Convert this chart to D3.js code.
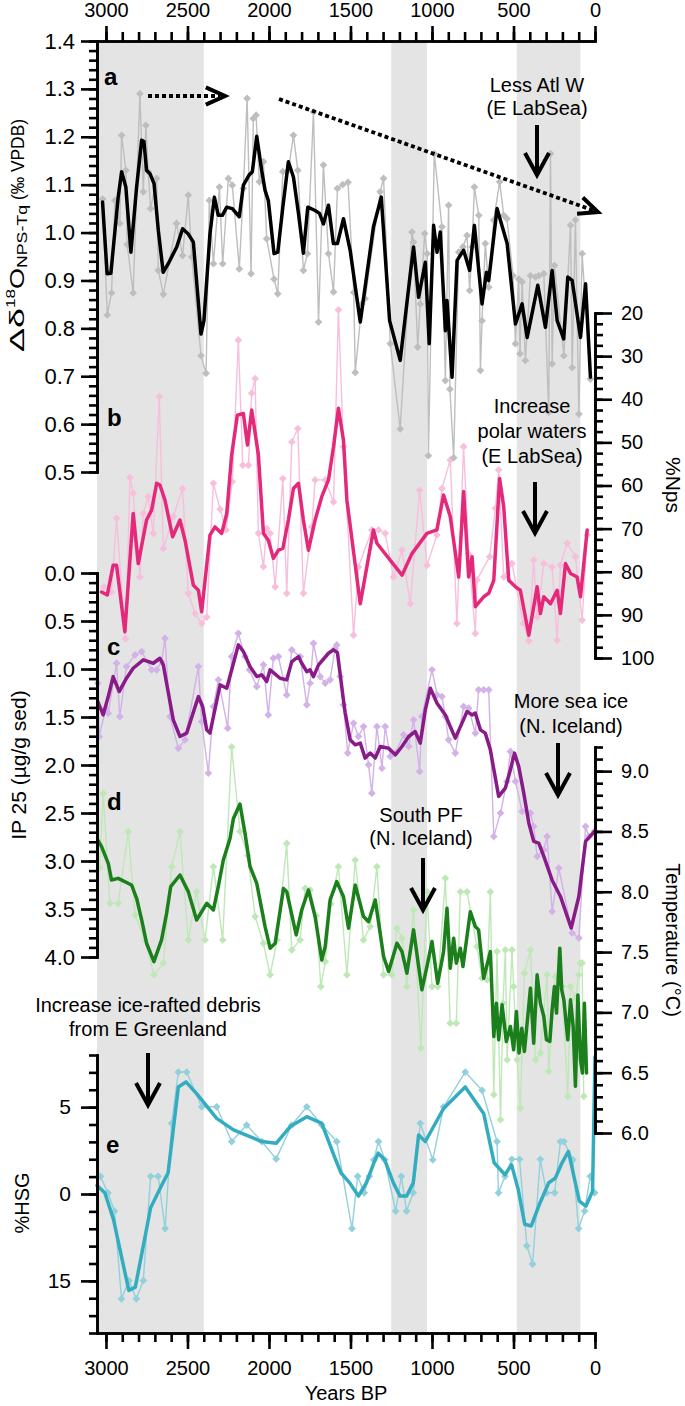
<!DOCTYPE html>
<html><head><meta charset="utf-8">
<script src="https://cdn.jsdelivr.net/npm/d3@7"></script>
<style>
body{margin:0;background:#fff}
svg text{font-family:"Liberation Sans",Arial,Helvetica,sans-serif;fill:#000}
</style>
</head><body>
<svg id="chart" width="685" height="1406"></svg>
<script>
// ---------- DATA (year BP, value) ----------
const deltaRaw=[[3021,1.07],[2992,0.828],[2966,0.874],[2945,1.067],[2915,1.019],[2904,1.203],[2878,1.13],[2870,0.975],[2833,0.874],[2792,1.29],[2771,1.085],[2755,1.224],[2741,1.127],[2726,1.05],[2689,1.113],[2679,0.921],[2648,0.871],[2567,1.019],[2530,0.952],[2495,1.078],[2474,0.949],[2417,0.743],[2386,0.706],[2366,1.067],[2341,0.935],[2304,1.095],[2284,0.935],[2249,1.113],[2225,1.099],[2182,0.924],[2157,1.092],[2134,1.28],[2110,0.914],[2096,1.238],[2079,1.245],[2059,1.106],[2034,1.148],[2014,0.987],[1969,0.903],[1946,0.872],[1915,1.127],[1881,1.13],[1850,1.203],[1823,1.13],[1789,0.921],[1764,0.956],[1727,1.252],[1696,0.813],[1666,1.141],[1635,0.956],[1604,0.876],[1580,1.092],[1548,1.1],[1515,1.105],[1480,0.875],[1471,0.708],[1430,0.851],[1410,0.862],[1318,1.085],[1297,1.113],[1256,0.768],[1195,0.59],[1123,1.001],[1113,0.98],[1088,0.761],[1072,0.851],[1045,0.998],[1030,0.956],[1022,0.534],[986,1.165],[939,1.012],[918,0.691],[898,1.057],[890,0.673],[867,0.53],[836,0.959],[810,0.97],[785,0.994],[769,0.879],[754,0.97],[740,1.095],[713,1.036],[703,0.712],[693,0.816],[673,0.977],[652,0.886],[621,1.026],[585,1.106],[560,1.036],[540,1.029],[503,0.91],[488,0.768],[468,0.903],[460,0.747],[447,0.897],[427,0.733],[396,0.91],[365,0.907],[345,0.91],[314,0.914],[284,0.625],[273,1.165],[263,0.726],[249,0.931],[191,0.743],[150,1.015],[140,0.718],[120,1.026],[99,0.621],[79,0.956],[28,0.694]];
const deltaSmooth=[[3021,1.064],[2993,0.914],[2970,0.915],[2925,1.074],[2904,1.127],[2878,1.095],[2847,0.959],[2812,1.095],[2781,1.193],[2767,1.19],[2751,1.13],[2730,1.123],[2705,1.102],[2679,1.005],[2649,0.917],[2618,0.935],[2566,0.97],[2530,1.008],[2495,0.997],[2464,0.98],[2417,0.788],[2399,0.816],[2362,0.997],[2335,1.074],[2311,1.036],[2286,1.036],[2259,1.053],[2225,1.05],[2182,1.033],[2157,1.099],[2122,1.12],[2102,1.127],[2075,1.201],[2045,1.13],[2024,1.088],[2004,1.067],[1969,0.956],[1946,0.959],[1915,1.053],[1881,1.148],[1850,1.116],[1819,1.04],[1789,0.957],[1762,1.053],[1717,1.046],[1690,1.04],[1666,1.018],[1635,1.057],[1605,0.977],[1580,0.977],[1543,1.029],[1502,0.963],[1440,0.813],[1359,1.012],[1311,1.074],[1260,0.816],[1195,0.733],[1133,0.914],[1113,0.97],[1082,0.865],[1041,0.938],[1017,0.768],[990,1.015],[969,0.959],[949,1.001],[918,0.795],[908,0.858],[877,0.698],[846,0.942],[806,0.963],[769,0.921],[740,1.015],[693,0.851],[666,0.917],[652,0.9],[601,1.05],[539,0.977],[488,0.809],[447,0.851],[416,0.781],[351,0.89],[304,0.802],[263,0.921],[232,0.816],[192,0.778],[167,0.907],[140,0.9],[89,0.781],[58,0.893],[28,0.698]];

const npsRaw=[[3013,83.5],[2966,84.7],[2935,67.6],[2880,95.5],[2853,58.2],[2833,61.8],[2792,81.2],[2771,66.5],[2741,62.6],[2710,71.1],[2673,39.4],[2648,74.6],[2587,67.2],[2530,60.7],[2495,85.0],[2454,89.7],[2413,92.0],[2382,90.5],[2341,59.5],[2300,65.5],[2263,70.3],[2225,59.1],[2188,26.3],[2161,55.3],[2126,55.3],[2106,38.6],[2085,35.2],[2065,71.1],[2034,78.8],[2014,70.0],[1993,71.1],[1962,83.5],[1915,58.4],[1891,85.0],[1860,49.9],[1823,46.8],[1789,85.0],[1737,69.6],[1717,58.7],[1655,58.7],[1604,63.8],[1574,19.3],[1543,51.0],[1481,94.7],[1451,78.9],[1369,70.3],[1328,70.3],[1287,71.1],[1236,81.2],[1184,75.0],[1133,87.4],[1076,61.1],[1031,78.5],[970,71.5],[939,60.7],[888,54.1],[847,92.0],[806,51.0],[775,75.8],[734,94.3],[724,81.9],[646,76.5],[611,65.3],[591,56.4],[560,81.2],[509,78.1],[440,92],[406,96],[376,77.3],[355,90.5],[314,78.1],[263,78.9],[232,95.9],[212,78.5],[171,73.4],[120,76.5],[79,91.2],[48,71.5]];
const npsSmooth=[[3027,84.7],[2992,85.4],[2956,78.5],[2935,78.5],[2884,93.9],[2833,66.5],[2802,78.1],[2751,68.0],[2720,65.7],[2689,59.5],[2669,59.9],[2638,63.4],[2591,71.9],[2546,68.0],[2515,72.7],[2464,83.1],[2433,84.3],[2413,89.3],[2362,71.5],[2331,69.6],[2290,71.1],[2259,66.5],[2229,52.9],[2194,43.7],[2157,43.3],[2132,50.6],[2106,42.5],[2065,52.9],[2034,71.1],[2004,72.7],[1973,76.9],[1942,75.0],[1915,74.6],[1881,68.0],[1850,60.7],[1819,59.5],[1789,68.0],[1758,75.0],[1717,68.0],[1676,62.6],[1635,58.7],[1604,51.0],[1574,42.1],[1543,49.5],[1522,63.4],[1440,87.4],[1359,70.3],[1338,73.4],[1184,80.8],[1123,75.8],[1031,71.1],[970,70.3],[929,62.2],[888,67.2],[836,81.2],[806,61.4],[775,81.2],[754,76.5],[734,88.1],[683,85.8],[652,85.0],[621,82.0],[585,58.4],[560,64.9],[529,82.0],[488,83.5],[458,84.3],[406,94.7],[376,88.1],[355,83.5],[335,89.7],[314,85.8],[273,87.4],[232,84.3],[212,89.7],[181,78.1],[150,80.4],[110,81.2],[89,85.8],[48,70.3]];

const ip25Raw=[[3050,1.148],[3042,1.703],[3001,1.408],[2986,1.46],[2935,0.94],[2915,1.495],[2874,0.975],[2822,0.853],[2781,0.818],[2720,1.009],[2689,1.009],[2659,0.923],[2638,0.68],[2607,1.495],[2556,1.825],[2515,1.738],[2433,0.975],[2413,1.547],[2372,2.085],[2341,1.391],[2310,1.113],[2253,1.616],[2229,0.871],[2188,0.628],[2147,0.871],[2120,1.009],[2075,1.183],[2034,0.957],[2004,1.478],[1973,0.888],[1942,0.871],[1891,1.27],[1860,0.801],[1809,0.871],[1768,1.373],[1748,1.148],[1727,0.732],[1686,1.079],[1655,1.148],[1625,1.113],[1594,0.784],[1584,0.749],[1563,1.079],[1543,1.373],[1517,1.876],[1481,1.564],[1451,1.703],[1420,1.599],[1389,1.998],[1369,2.293],[1338,1.599],[1307,2.033],[1287,1.599],[1256,1.911],[1225,1.876],[1174,1.686],[1143,1.807],[1113,1.53],[1076,2.067],[1062,1.495],[1000,1.009],[969,1.27],[939,1.287],[918,1.495],[898,1.738],[857,1.876],[806,1.391],[775,1.408],[734,1.668],[714,1.217],[683,1.217],[652,1.217],[621,2.744],[580,2.501],[540,2.171],[519,1.859],[488,2.171],[447,2.484],[396,2.501],[376,2.64],[355,2.952],[314,2.883],[294,2.744],[263,3.525],[222,3.074],[140,3.75],[99,3.802],[58,2.64],[38,2.744],[2,2.69]];
const ip25Smooth=[[3050,1.339],[3017,1.478],[2986,1.287],[2956,1.079],[2919,1.235],[2874,1.096],[2833,0.992],[2771,0.905],[2710,0.94],[2669,0.888],[2648,0.957],[2628,1.148],[2587,1.53],[2546,1.703],[2505,1.668],[2433,1.287],[2407,1.391],[2382,1.634],[2362,1.668],[2300,1.165],[2259,1.2],[2218,0.94],[2188,0.749],[2157,0.818],[2116,0.975],[2075,1.079],[2044,1.061],[2014,1.131],[1993,1.009],[1932,1.096],[1891,1.113],[1860,0.923],[1819,0.871],[1799,0.94],[1768,1.027],[1748,1.009],[1727,1.079],[1696,0.957],[1635,0.836],[1604,0.8],[1580,0.83],[1545,1.3],[1533,1.45],[1502,1.738],[1471,1.79],[1440,1.772],[1410,1.928],[1379,1.876],[1348,1.928],[1318,1.807],[1266,1.825],[1225,1.894],[1184,1.807],[1143,1.703],[1103,1.651],[1072,1.772],[1041,1.426],[1010,1.2],[969,1.356],[918,1.478],[888,1.599],[857,1.72],[816,1.564],[785,1.443],[754,1.478],[734,1.46],[703,1.634],[673,1.668],[642,1.842],[591,2.327],[550,2.241],[519,2.05],[494,1.876],[468,2.015],[437,2.293],[406,2.605],[376,2.796],[345,2.813],[314,2.952],[263,3.2],[212,3.369],[146,3.698],[99,3.369],[58,2.796],[2,2.69]];

const tempRaw=[[3040,8.2],[3017,8.815],[2976,7.904],[2925,7.904],[2863,8.498],[2822,7.808],[2760,7.6],[2706,7.311],[2648,7.408],[2597,8.208],[2546,8.498],[2495,7.601],[2444,8.001],[2392,7.601],[2341,8.208],[2284,7.601],[2229,9.201],[2178,8.5],[2130,8.3],[2085,7.794],[2034,7.573],[1993,7.311],[1950,7.6],[1891,8.401],[1860,7.518],[1809,7.601],[1778,8.028],[1747,8.015],[1710,7.8],[1682,7.214],[1655,7.421],[1620,7.9],[1574,8.208],[1522,7.311],[1471,8.263],[1420,7.601],[1379,7.711],[1338,8.208],[1297,7.311],[1246,7.311],[1215,7.697],[1184,7.615],[1154,7.214],[1113,7.849],[1068,6.704],[1031,7.999],[1000,7.214],[965,7.214],[918,8.111],[888,6.91],[851,6.91],[826,7.999],[785,7.999],[724,7.546],[693,7.283],[662,7.27],[642,7.999],[621,6.318],[601,7.504],[580,6.11],[564,7.076],[550,7.518],[539,6.607],[509,7.518],[499,7.214],[478,6.607],[458,6.207],[433,7.325],[396,7.518],[365,6.607],[335,6.663],[294,7.311],[284,6.511],[243,7.297],[222,7.297],[202,7.214],[167,6.304],[150,7.214],[120,7.118],[99,7.311],[89,7.408],[79,7.408],[69,6.304]];
const tempSmooth=[[3050,8.429],[3027,8.374],[2986,8.236],[2966,8.097],[2925,8.111],[2843,8.056],[2812,7.946],[2781,7.766],[2751,7.573],[2706,7.421],[2659,7.601],[2628,7.822],[2603,8.042],[2546,8.139],[2495,8.001],[2444,7.766],[2382,7.904],[2341,7.849],[2311,8.042],[2280,8.263],[2239,8.442],[2218,8.608],[2178,8.727],[2147,8.484],[2116,8.208],[2075,8.07],[2024,7.711],[1993,7.532],[1962,7.573],[1911,8.028],[1891,8.001],[1860,7.808],[1833,7.642],[1799,7.849],[1758,8.015],[1717,7.794],[1676,7.435],[1655,7.546],[1625,7.932],[1584,8.084],[1543,7.959],[1512,7.697],[1471,8.056],[1420,7.794],[1389,7.752],[1348,7.932],[1297,7.463],[1266,7.339],[1215,7.573],[1184,7.504],[1154,7.325],[1113,7.684],[1062,7.187],[1031,7.38],[1000,7.587],[965,7.242],[929,7.504],[908,7.863],[888,7.366],[867,7.615],[851,7.408],[826,7.532],[810,7.38],[765,7.835],[734,7.711],[714,7.684],[683,7.283],[642,7.504],[621,6.8],[605,7.076],[591,6.773],[570,7.063],[544,6.759],[519,6.883],[499,6.69],[482,7.007],[466,6.663],[449,6.869],[433,6.676],[396,7.201],[376,6.745],[355,7.311],[335,7.076],[314,6.966],[298,6.773],[277,6.759],[263,7.021],[249,7.214],[236,6.994],[216,7.532],[204,7.187],[191,7.104],[167,6.773],[150,7.104],[134,6.883],[120,6.387],[105,7.145],[89,6.607],[77,6.497],[65,7.076],[52,6.497]];

const hsgRaw=[[3034,8.98],[2988,9.93],[2948,10.98],[2905,16.03],[2859,14.98],[2814,16.03],[2771,14.98],[2726,8.98],[2680,8.98],[2637,11.99],[2597,5.93],[2556,2.98],[2505,2.98],[2413,4.98],[2321,4.98],[2229,6.98],[2137,6.03],[2044,6.98],[1956,7.98],[1860,6.03],[1768,4.98],[1676,6.03],[1584,6.98],[1491,11.99],[1456,8.98],[1416,9.93],[1384,8.98],[1357,8.03],[1328,6.98],[1290,8.03],[1223,10.98],[1188,8.98],[1156,10.98],[1115,9.93],[1072,5.93],[995,8.03],[929,4.98],[796,2.98],[693,4.03],[601,6.98],[592,9.93],[552,8.98],[510,8.0],[463,8.0],[418,12.98],[383,14.03],[336,8.0],[297,9.93],[248,9.93],[212,6.98],[191,6.98],[136,8.03],[101,11.99],[64,10.98],[29,8.98],[2,9.93]];
const hsgSmooth=[[3055,9.51],[3007,9.93],[2954,11.46],[2860,15.55],[2820,15.36],[2726,10.79],[2646,9.27],[2619,8.79],[2556,3.84],[2509,3.55],[2444,4.22],[2321,5.65],[2218,6.31],[2044,6.98],[1956,7.08],[1870,6.12],[1768,5.55],[1676,5.93],[1599,7.84],[1558,8.79],[1505,9.36],[1451,10.12],[1403,9.36],[1357,8.22],[1330,7.65],[1290,8.03],[1237,9.36],[1196,10.12],[1156,10.12],[1115,9.36],[1082,6.6],[1041,6.98],[929,5.08],[796,3.84],[683,5.36],[619,8.2],[552,8.89],[512,8.31],[471,9.74],[431,11.74],[391,11.84],[337,10.5],[284,9.36],[243,9.08],[203,8.22],[163,7.55],[96,10.41],[56,10.7],[15,9.84],[0,2.1]];

const shadedBands=[[3055,2400],[1250,1030],[480,90]];
const yearTicks=[3000,2500,2000,1500,1000,500,0];
const deltaTicks=[0.5,0.6,0.7,0.8,0.9,1.0,1.1,1.2,1.3,1.4];
const npsTicks=[20,30,40,50,60,70,80,90,100];
const ip25Ticks=[0,0.5,1,1.5,2,2.5,3,3.5,4];
const tempTicks=[6.0,6.5,7.0,7.5,8.0,8.5,9.0];
const hsgTicks=[5,10,15];
const hsgTickLabels={5:"5",10:"0",15:"15"};

// ---------- SCALES ----------
const svg=d3.select("#chart");
const x=d3.scaleLinear().domain([3055,0]).range([97,595]);
const yA=d3.scaleLinear().domain([1.4,0.5]).range([41,472]);
const yB=d3.scaleLinear().domain([20,100]).range([313,658]);
const yC=d3.scaleLinear().domain([0,4]).range([573,957]);
const yD=d3.scaleLinear().domain([9.2,6.0]).range([747,1133]);
const yE=d3.scaleLinear().domain([2,18]).range([1055,1333]);

// bands
svg.selectAll("rect.band").data(shadedBands).join("rect").attr("class","band")
  .attr("x",d=>x(d[0])).attr("width",d=>x(d[1])-x(d[0]))
  .attr("y",41).attr("height",1333-41).attr("fill","#e4e4e4");

// series
function series(raw,smooth,y,rawColor,smoothColor){
  const g=svg.append("g");
  const line=d3.line().x(d=>x(d[0])).y(d=>y(d[1]));
  g.append("path").attr("d",line(raw)).attr("fill","none").attr("stroke",rawColor).attr("stroke-width",1.4).attr("stroke-linejoin","round");
  g.selectAll("path.pt").data(raw).join("path").attr("class","pt")
    .attr("d",d3.symbol(d3.symbolSquare,30)())
    .attr("transform",d=>`translate(${x(d[0])},${y(d[1])}) rotate(45)`)
    .attr("fill",rawColor);
  g.append("path").attr("d",line(smooth)).attr("fill","none").attr("stroke",smoothColor)
    .attr("stroke-width",3.5).attr("stroke-linejoin","round").attr("stroke-linecap","round");
}
series(hsgRaw,hsgSmooth,yE,"#92d0dc","#33acbf");
series(tempRaw,tempSmooth,yD,"#bfe8b7","#1b7f1b");
series(ip25Raw,ip25Smooth,yC,"#d2b2e8","#881b88");
series(npsRaw,npsSmooth,yB,"#f8bfdc","#e4297b");
series(deltaRaw,deltaSmooth,yA,"#bebebe","#000000");

// axes
function axis(makeGen,transform,major,minor,majorSize,minorSize,fmt,pad,fs){
  const g1=svg.append("g").attr("transform",transform)
    .call(makeGen().tickValues(minor).tickSize(minorSize).tickSizeOuter(0).tickFormat(""));
  const g2=svg.append("g").attr("transform",transform)
    .call(makeGen().tickValues(major).tickSize(majorSize).tickSizeOuter(0).tickFormat(fmt).tickPadding(pad));
  [g1,g2].forEach(g=>{
    g.selectAll("path.domain").attr("stroke","#000").attr("stroke-width",2.6).attr("stroke-linecap","square");
    g.selectAll(".tick line").attr("stroke","#000").attr("stroke-width",2.6);
    g.selectAll("text").attr("font-size",fs||20).attr("font-family",'"Liberation Sans",Arial,sans-serif').attr("fill","#000");
  });
  return g2;
}
const f1=d3.format(".1f");
const yearMinor=d3.range(0,31).map(i=>i*100);
axis(()=>d3.axisTop(x),"translate(0,41)",yearTicks,yearMinor,15,9,d=>d,9,20);
axis(()=>d3.axisBottom(x),"translate(0,1333)",yearTicks,yearMinor,16,9,d=>d,12,20);
axis(()=>d3.axisLeft(yA),"translate(97,0)",deltaTicks,d3.range(25,71).map(i=>i/50),16,8,f1,6,22);
axis(()=>d3.axisRight(yB),"translate(595,0)",npsTicks,d3.range(0,33).map(i=>20+i*2.5),17,8,d=>d,9,20);
axis(()=>d3.axisLeft(yC),"translate(97,0)",ip25Ticks,d3.range(0,41).map(i=>i/10),16,8,f1,6,22);
axis(()=>d3.axisRight(yD),"translate(595,0)",tempTicks,d3.range(60,93).map(i=>i/10),17,8,f1,9,20);
axis(()=>d3.axisLeft(yE),"translate(97,0)",hsgTicks,d3.range(2,19),16,8,d=>hsgTickLabels[d],10,21);

// axis titles
function rotText(tx,ty,ang,size){
  return svg.append("text").attr("transform",`translate(${tx},${ty}) rotate(${ang})`)
    .attr("text-anchor","middle").attr("font-size",size);
}
// delta label: pieces laid along the rotated baseline
const gA=svg.append("g").attr("transform","translate(24,352) rotate(-90)");
[["Δδ",0,0,21,44],["18",44,-9,13,19],["O",63,0,21,21],["NPS-Tq",84,3,14,63],["(‰ VPDB)",152,0,18,81]].forEach(p=>{
  gA.append("text").attr("x",p[1]).attr("y",p[2]).attr("font-size",p[3])
    .attr("textLength",p[4]).attr("lengthAdjust","spacingAndGlyphs").text(p[0]);
});
rotText(26,765,-90,21).text("IP 25 (µg/g sed)");
rotText(29,1203,-90,20).text("%HSG");
rotText(666,485,90,21).text("%Nps");
rotText(666,940,90,20).text("Temperature (°C)");
svg.append("text").attr("x",346).attr("y",1400).attr("text-anchor","middle").attr("font-size",20).text("Years BP");

// panel letters
[["a",104,85],["b",107,426],["c",107,655],["d",107,810],["e",106,1153]].forEach(p=>{
  svg.append("text").attr("x",p[1]).attr("y",p[2]).attr("font-size",24).attr("font-weight","bold").text(p[0]);
});

// annotations
const notes=[["Less Atl W",537,92],["(E LabSea)",537,115],
 ["Increase",532,413],["polar waters",532,438],["(E LabSea)",532,463],
 ["More sea ice",571,708],["(N. Iceland)",571,733],
 ["South PF",421,822],["(N. Iceland)",421,845],
 ["Increase ice-rafted debris",148,1012],["from E Greenland",148,1036]];
notes.forEach(n=>svg.append("text").attr("x",n[1]).attr("y",n[2]).attr("text-anchor","middle").attr("font-size",20).text(n[0]));

function head(tx,ty,ang,len,spread){
  const a1=ang+Math.PI-spread,a2=ang+Math.PI+spread;
  svg.append("path").attr("d",`M${tx+len*Math.cos(a1)},${ty+len*Math.sin(a1)}L${tx},${ty}L${tx+len*Math.cos(a2)},${ty+len*Math.sin(a2)}`)
    .attr("fill","none").attr("stroke","#000").attr("stroke-width",4).attr("stroke-linejoin","miter");
}
function vArrow(ax,y1,y2){
  svg.append("line").attr("x1",ax).attr("x2",ax).attr("y1",y1).attr("y2",y2-3).attr("stroke","#000").attr("stroke-width",4);
  head(ax,y2,Math.PI/2,25,0.5);
}
vArrow(537,125,175);
vArrow(535,482,533);
vArrow(558,743,795);
vArrow(423,858,910);
vArrow(148,1053,1105);

function dArrow(x1,y1,x2,y2){
  const ang=Math.atan2(y2-y1,x2-x1);
  svg.append("line").attr("x1",x1).attr("y1",y1).attr("x2",x2-5*Math.cos(ang)).attr("y2",y2-5*Math.sin(ang))
    .attr("stroke","#000").attr("stroke-width",3.8).attr("stroke-dasharray","4,3");
  head(x2,y2,ang,21,0.42);
}
dArrow(148,96,225,96);
dArrow(279,99,598,212);
</script>
</body></html>
